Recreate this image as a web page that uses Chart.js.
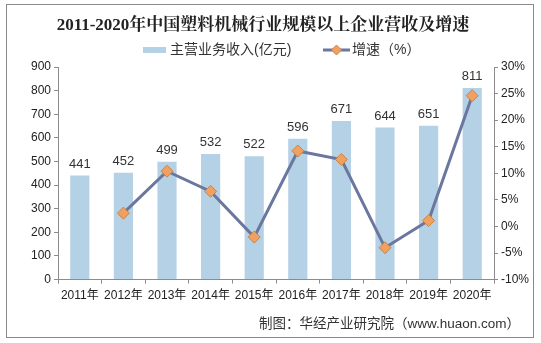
<!DOCTYPE html>
<html lang="zh">
<head>
<meta charset="UTF-8">
<title>2011-2020年中国塑料机械行业规模以上企业营收及增速</title>
<script src="https://cdn.jsdelivr.net/npm/chart.js"></script>
<style>
  html, body { margin: 0; padding: 0; background: #fff; }
</style>
</head>
<body>
<canvas id="myChart" width="541" height="343"></canvas>
<script>
const years = ['2011年', '2012年', '2013年', '2014年', '2015年', '2016年', '2017年', '2018年', '2019年', '2020年'];
const revenue = [441, 452, 499, 532, 522, 596, 671, 644, 651, 811];
const growth = [null, 2.5, 10.4, 6.6, -2.0, 14.2, 12.6, -4.0, 1.1, 24.6];
const revenueTicks = [0, 100, 200, 300, 400, 500, 600, 700, 800, 900];
const growthTicks = [-10, -5, 0, 5, 10, 15, 20, 25, 30];

const titleText = '2011-2020年中国塑料机械行业规模以上企业营收及增速';
const barLabel = '主营业务收入(亿元)';
const lineLabel = '增速（%）';
const sourceText = '制图：华经产业研究院（www.huaon.com）';

const barColor = '#b5d1e5';
const lineColor = '#6b779e';
const markerColor = '#f2a060';
const markerEdge = '#c8844a';
const axisColor = '#8c8c8c';
const fontSans = "'Liberation Sans', Arial, 'Noto Sans CJK SC', sans-serif";
const fontTitle = "'Liberation Serif', 'Noto Serif CJK SC', 'Noto Sans CJK SC', serif";

function diamond(g, x, y, r) {
    g.beginPath();
    g.moveTo(x, y - r); g.lineTo(x + r, y); g.lineTo(x, y + r); g.lineTo(x - r, y);
    g.closePath();
    g.fillStyle = markerColor;
    g.strokeStyle = markerEdge;
    g.lineWidth = 1;
    g.fill(); g.stroke();
}

// title, legend, value labels, frame, source line
const extras = {
    id: 'extras',
    afterDatasetsDraw(chart) {
        const ctx = chart.ctx;
        const meta = chart.getDatasetMeta(1);
        ctx.save();
        ctx.font = '13px ' + fontSans;
        ctx.fillStyle = '#333';
        ctx.textAlign = 'center';
        ctx.textBaseline = 'bottom';
        meta.data.forEach((bar, i) => {
            ctx.fillText(String(revenue[i]), bar.x, bar.y - 5);
        });
        ctx.restore();
    },
    afterDraw(chart) {
        const ctx = chart.ctx;
        ctx.save();
        ctx.strokeStyle = '#8a8a8a';
        ctx.lineWidth = 1;
        ctx.strokeRect(6.5, 4.5, 527, 333);

        // title
        ctx.fillStyle = '#222';
        ctx.font = 'bold 17px ' + fontTitle;
        ctx.textAlign = 'center';
        ctx.textBaseline = 'middle';
        ctx.fillText(titleText, 263, 26);

        // legend
        ctx.font = '14px ' + fontSans;
        ctx.textAlign = 'left';
        ctx.fillStyle = barColor;
        ctx.fillRect(143, 47, 23, 6);
        ctx.fillStyle = '#333';
        ctx.fillText(barLabel, 170, 50);
        ctx.strokeStyle = lineColor;
        ctx.lineWidth = 3;
        ctx.beginPath(); ctx.moveTo(323, 50); ctx.lineTo(350, 50); ctx.stroke();
        diamond(ctx, 336.5, 50, 5);
        ctx.fillStyle = '#333';
        ctx.fillText(lineLabel, 352, 50);

        // source
        ctx.font = '13.5px ' + fontSans;
        ctx.textAlign = 'right';
        ctx.fillText(sourceText, 520, 324);
        ctx.restore();
    }
};

new Chart(document.getElementById('myChart'), {
    data: {
        labels: years,
        datasets: [
            {
                type: 'line',
                label: lineLabel,
                data: growth,
                yAxisID: 'y1',
                borderColor: lineColor,
                borderWidth: 3,
                pointStyle: 'rectRot',
                pointRadius: 6,
                pointBackgroundColor: markerColor,
                pointBorderColor: markerEdge,
                pointBorderWidth: 1,
                spanGaps: false,
                order: 0
            },
            {
                type: 'bar',
                label: barLabel,
                data: revenue,
                yAxisID: 'y',
                backgroundColor: barColor,
                categoryPercentage: 0.44,
                barPercentage: 1,
                order: 1
            }
        ]
    },
    options: {
        responsive: false,
        animation: false,
        devicePixelRatio: 1,
        layout: { padding: { left: 6, right: 4, top: 67, bottom: 35 } },
        plugins: {
            title: { display: false },
            legend: { display: false },
            tooltip: { enabled: false }
        },
        scales: {
            x: {
                offset: true,
                grid: { offset: true, drawOnChartArea: false, tickLength: 4, color: axisColor },
                border: { color: axisColor },
                ticks: { color: '#222', font: { family: fontSans, size: 12 }, maxRotation: 0, autoSkip: false, padding: 5 }
            },
            y: {
                position: 'left',
                min: revenueTicks[0],
                max: revenueTicks[revenueTicks.length - 1],
                afterBuildTicks(axis) { axis.ticks = revenueTicks.map(v => ({ value: v })); },
                afterFit(axis) { axis.width = 52; },
                grid: { drawOnChartArea: false, tickLength: 4, color: axisColor },
                border: { color: axisColor },
                ticks: { color: '#222', font: { family: fontSans, size: 12 }, padding: 3 }
            },
            y1: {
                position: 'right',
                min: growthTicks[0],
                max: growthTicks[growthTicks.length - 1],
                afterBuildTicks(axis) { axis.ticks = growthTicks.map(v => ({ value: v })); },
                afterFit(axis) { axis.width = 43; },
                grid: { drawOnChartArea: false, tickLength: 4, color: axisColor },
                border: { color: axisColor },
                ticks: { color: '#222', font: { family: fontSans, size: 12 }, padding: 3, callback: v => v + '%' }
            }
        }
    },
    plugins: [extras]
});
</script>
</body>
</html>
